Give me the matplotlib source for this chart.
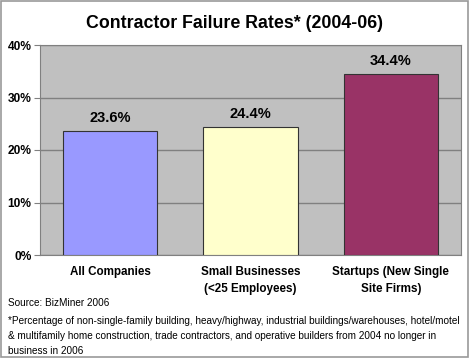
import matplotlib
matplotlib.use('Agg')
import matplotlib.pyplot as plt
from matplotlib.patches import Rectangle

categories = ['All Companies', 'Small Businesses\n(<25 Employees)', 'Startups (New Single\nSite Firms)']
rates = [23.6, 24.4, 34.4]
bar_colors = ['#9999FF', '#FFFFCC', '#993366']
yticks = [0, 10, 20, 30, 40]

plt.rcParams['font.family'] = ['Liberation Sans', 'DejaVu Sans']

fig = plt.figure(figsize=(4.7, 3.58), dpi=100)
fig.patches.append(Rectangle((0.002, 0.003), 0.994, 0.994, transform=fig.transFigure,
                             fill=False, edgecolor='#999999', linewidth=1.2))

ax = fig.add_axes([40 / 470, 1 - 255 / 358, 421 / 470, 210 / 358])
ax.set_facecolor('#C0C0C0')
x = range(len(categories))
ax.bar(x, rates, width=0.67, color=bar_colors, edgecolor='#333333', linewidth=0.8, zorder=3)
for i, v in enumerate(rates):
    ax.text(i, v + 1.2, f'{v:.1f}%', ha='center', va='bottom', fontsize=10.5, fontweight='bold', zorder=4)

ax.set_xlim(-0.5, 2.5)
ax.set_ylim(0, 40)
ax.set_yticks(yticks)
ax.set_yticklabels([f'{t}%' for t in yticks], fontsize=8.6, fontweight='bold')
ax.yaxis.grid(True, color='#808080', linewidth=1, zorder=0)
ax.set_xticks(list(x))
ax.set_xticklabels(categories, fontsize=8.4, fontweight='bold', linespacing=1.5)
ax.tick_params(axis='x', length=0, pad=8)
ax.tick_params(axis='y', length=4, color='#808080', pad=2)
for s in ['top', 'right', 'left', 'bottom']:
    ax.spines[s].set_color('#808080')

fig.text(0.5, 1 - 23 / 358, 'Contractor Failure Rates* (2004-06)', ha='center', va='center',
         fontsize=12.8, fontweight='bold')
fig.text(8 / 470, 1 - 303 / 358, 'Source: BizMiner 2006', ha='left', va='center', fontsize=7.2)
fig.text(8 / 470, 1 - 336 / 358,
         '*Percentage of non-single-family building, heavy/highway, industrial buildings/warehouses, hotel/motel\n'
         '& multifamily home construction, trade contractors, and operative builders from 2004 no longer in\n'
         'business in 2006',
         ha='left', va='center', fontsize=7.2, linespacing=1.6)

fig.savefig('out.png', dpi=100)
